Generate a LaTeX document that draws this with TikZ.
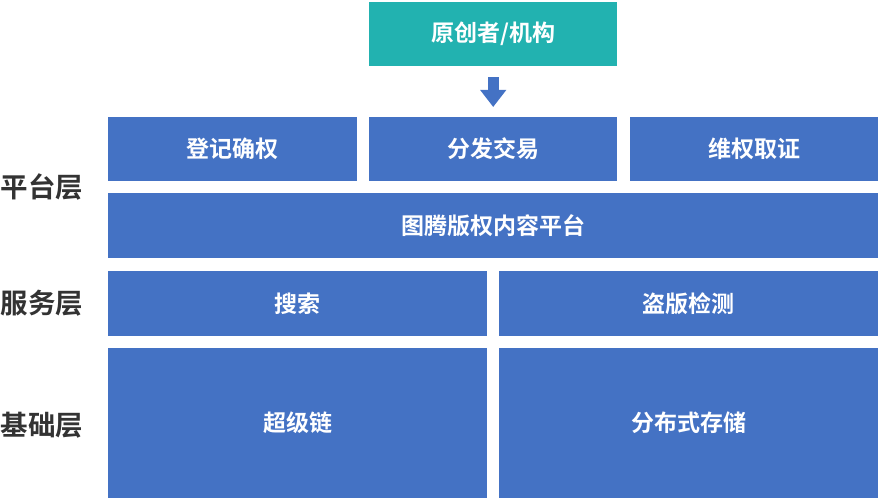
\documentclass[tikz,border=0pt]{standalone}
\usepackage{fontspec}
\setmainfont{Noto Sans CJK SC}
\newfontfamily\cjkbold{Noto Sans CJK SC Bold}
\usetikzlibrary{arrows.meta, positioning}
\definecolor{BlockBlue}{RGB}{68,114,196}
\definecolor{TopTeal}{RGB}{34,178,176}
\definecolor{LabelGray}{RGB}{51,51,51}
\tikzstyle{blockbox} = [rectangle, fill=BlockBlue, text=white, anchor=north west, inner sep=0pt, font=\cjkbold\fontsize{23}{26}\selectfont]
\tikzstyle{topbox} = [blockbox, fill=TopTeal]
\tikzstyle{layerlabel} = [text=LabelGray, font=\cjkbold\fontsize{27.5}{31}\selectfont]
\tikzstyle{arrow} = [BlockBlue, line width=11pt, -{Triangle[width=25pt,length=17pt]}]

\begin{document}
\begin{tikzpicture}[x=1pt, y=-1pt]
    \useasboundingbox (0,0) rectangle (880,500);
    % top
    \node[topbox, minimum width=248pt, minimum height=64pt] (creator) at (369,2) {原创者/机构};
    % platform layer
    \node[blockbox, minimum width=249pt, minimum height=64pt] (register) at (108,117) {登记确权};
    \node[blockbox, minimum width=248pt, minimum height=64pt] (trade) at (369,117) {分发交易};
    \node[blockbox, minimum width=248pt, minimum height=64pt] (protect) at (630,117) {维权取证};
    \node[blockbox, minimum width=770pt, minimum height=65pt] (platform) at (108,193) {图腾版权内容平台};
    % service layer
    \node[blockbox, minimum width=379pt, minimum height=65pt] (search) at (108,271) {搜索};
    \node[blockbox, minimum width=379pt, minimum height=65pt] (piracy) at (499,271) {盗版检测};
    % base layer
    \node[blockbox, minimum width=379pt, minimum height=150pt] (chain) at (108,348) {超级链};
    \node[blockbox, minimum width=379pt, minimum height=150pt] (storage) at (499,348) {分布式存储};
    % layer labels
    \node[layerlabel] (platformlabel) at (42,187) {平台层};
    \node[layerlabel] (servicelabel) at (42,303) {服务层};
    \node[layerlabel] (baselabel) at (42,425) {基础层};
    \draw[arrow, shorten <=11pt, shorten >=10pt] (creator) -- (trade);
\end{tikzpicture}
\end{document}
